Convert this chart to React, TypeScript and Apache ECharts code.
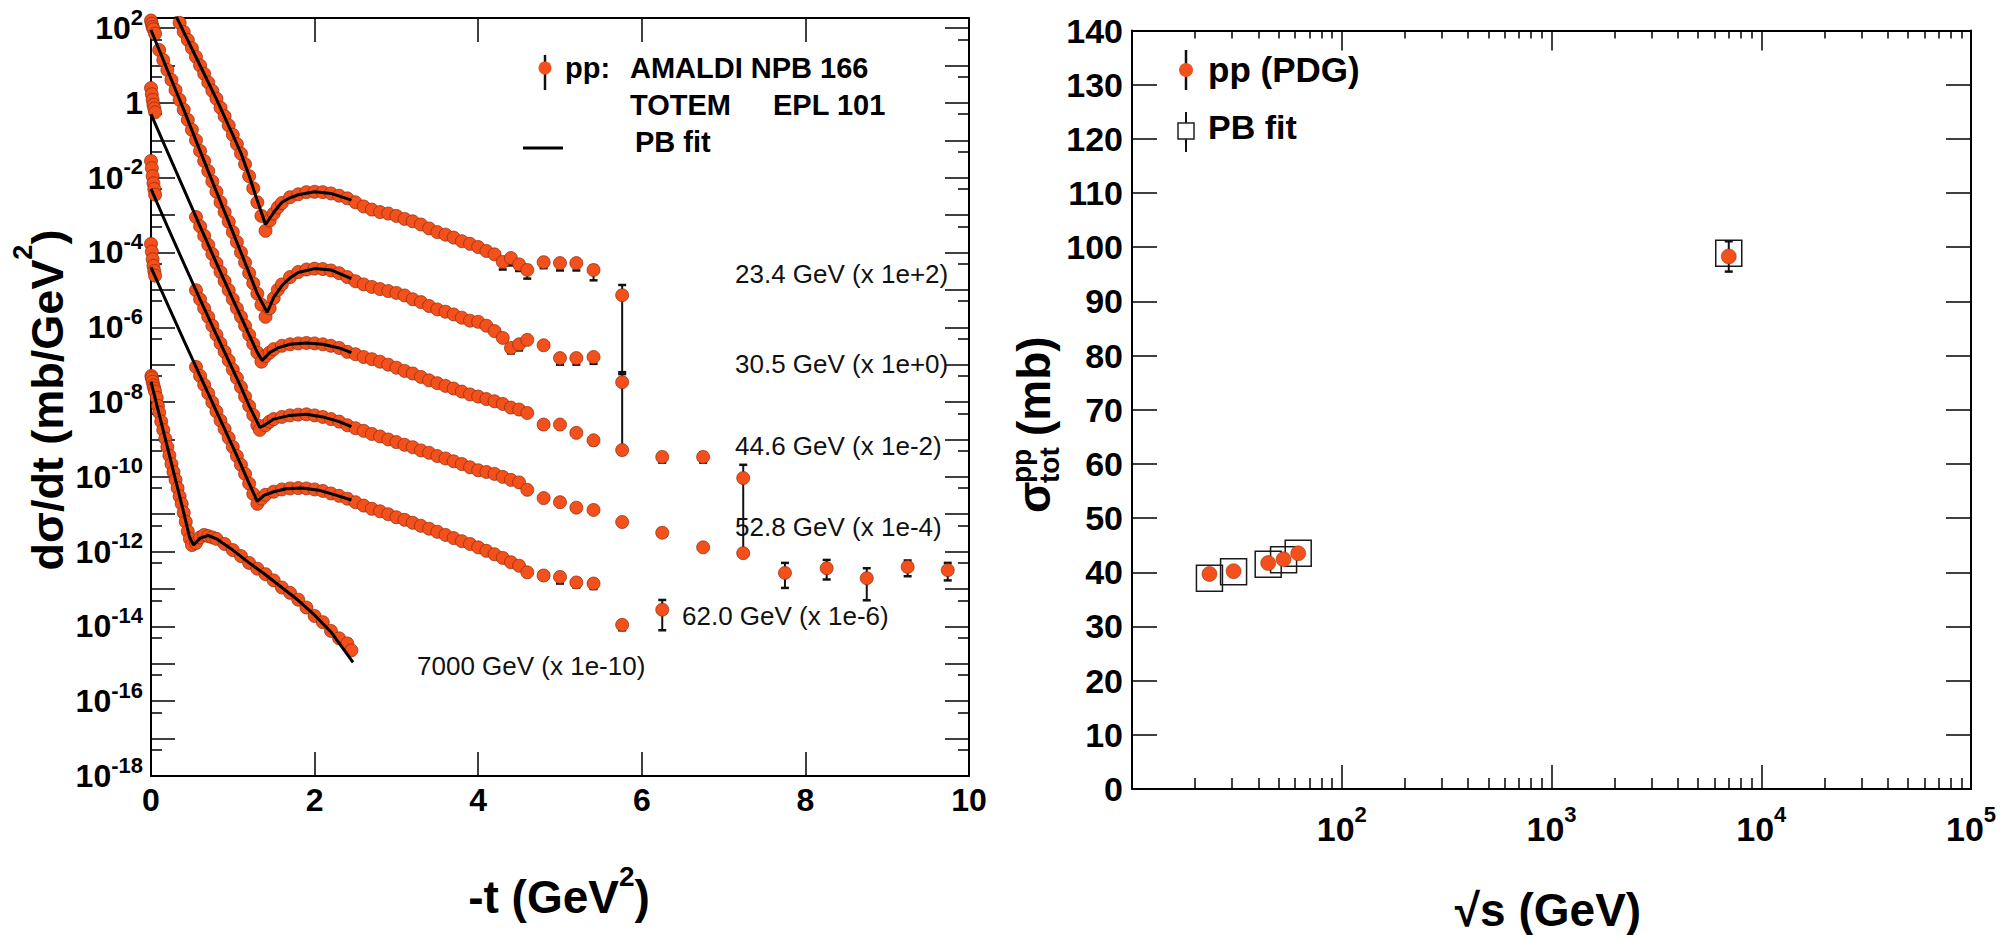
import React, { useEffect, useRef } from 'react';
import * as echarts from 'echarts';

const FONT = "'Liberation Sans', Arial, Helvetica, sans-serif";
const ORANGE = '#f4501c';

// ---------- Left panel: scaled dσ/dt (mb/GeV^2) vs -t (GeV^2) ----------
// points: [t, value] or [t, value, errLow, errHigh]
const data23_4: number[][] = [
  [0.35, 138], [0.40, 79], [0.45, 48], [0.50, 29], [0.55, 17], [0.60, 10], [0.65, 6.0], [0.70, 3.5], [0.75, 2.1], [0.80, 1.3],
  [0.85, 0.74], [0.90, 0.44], [0.95, 0.25], [1.00, 0.14], [1.05, 0.079], [1.10, 0.044], [1.15, 0.023], [1.20, 0.011], [1.25, 5.2e-3], [1.30, 2.2e-3],
  [1.35, 9.5e-4], [1.40, 3.8e-4], [1.45, 7.1e-4], [1.50, 1.1e-3], [1.55, 1.6e-3], [1.60, 2.1e-3], [1.70, 3.0e-3], [1.80, 3.6e-3], [1.90, 4.1e-3], [2.00, 4.2e-3],
  [2.10, 4.1e-3], [2.20, 3.8e-3], [2.30, 3.3e-3], [2.40, 2.8e-3], [2.50, 2.2e-3], [2.60, 1.7e-3], [2.70, 1.4e-3], [2.80, 1.2e-3], [2.90, 1.1e-3], [3.00, 9.5e-4],
  [3.10, 7.9e-4], [3.20, 6.8e-4], [3.30, 5.6e-4], [3.40, 4.4e-4], [3.50, 3.5e-4], [3.60, 3.0e-4], [3.70, 2.5e-4], [3.80, 2.0e-4], [3.90, 1.7e-4], [4.00, 1.4e-4],
  [4.10, 1.1e-4], [4.20, 8.9e-5], [4.30, 5.6e-5, 3.5e-5, 7.1e-5], [4.40, 7.1e-5, 4.5e-5, 8.9e-5], [4.50, 4.8e-5, 3.2e-5, 6.0e-5], [4.60, 3.4e-5, 2.0e-5, 4.4e-5],
  [4.80, 5.5e-5, 3.8e-5, 6.9e-5], [5.00, 5.2e-5, 3.3e-5, 6.6e-5], [5.20, 5.2e-5, 3.3e-5, 6.6e-5], [5.41, 3.4e-5, 1.8e-5, 4.4e-5], [5.76, 7.2e-6, 6.3e-8, 1.35e-5],
];
const fit23_4: number[][] = [
  [0, 5.0e3], [0.2, 6.3e2], [0.4, 79], [0.6, 10], [0.8, 1.26], [1.0, 0.14], [1.1, 0.045], [1.2, 0.0112], [1.3, 2.4e-3], [1.4, 5.6e-4],
  [1.5, 1.17e-3], [1.6, 2.2e-3], [1.7, 2.9e-3], [1.8, 3.5e-3], [2.0, 4.2e-3], [2.2, 3.8e-3], [2.45, 2.5e-3],
];

const data30_5: number[][] = [
  [0.00, 160], [0.01, 130], [0.02, 107], [0.03, 93], [0.05, 71], [0.10, 26], [0.15, 14], [0.20, 7.6], [0.25, 4.1], [0.30, 2.2],
  [0.35, 1.2], [0.40, 0.66], [0.45, 0.35], [0.50, 0.19], [0.55, 0.10], [0.60, 0.052], [0.65, 0.028], [0.70, 0.015], [0.75, 7.9e-3], [0.80, 4.2e-3],
  [0.85, 2.2e-3], [0.90, 1.2e-3], [0.95, 6.6e-4], [1.00, 3.5e-4], [1.05, 1.9e-4], [1.10, 1.0e-4], [1.15, 5.4e-5], [1.20, 2.8e-5], [1.25, 1.5e-5], [1.30, 7.9e-6],
  [1.35, 4.0e-6], [1.40, 1.9e-6], [1.45, 3.2e-6], [1.50, 6.0e-6], [1.55, 1.0e-5], [1.60, 1.4e-5], [1.70, 2.2e-5], [1.80, 3.0e-5], [1.90, 3.5e-5], [2.00, 3.7e-5],
  [2.10, 3.6e-5], [2.20, 3.3e-5], [2.30, 2.8e-5], [2.40, 2.2e-5], [2.50, 1.7e-5], [2.60, 1.4e-5], [2.70, 1.2e-5], [2.80, 1.05e-5], [2.90, 9.3e-6], [3.00, 8.3e-6],
  [3.10, 7.1e-6], [3.20, 5.6e-6], [3.30, 4.7e-6], [3.40, 3.7e-6], [3.50, 3.0e-6], [3.60, 2.6e-6], [3.70, 2.2e-6], [3.80, 1.8e-6], [3.90, 1.5e-6], [4.00, 1.4e-6],
  [4.10, 1.1e-6], [4.20, 7.9e-7], [4.30, 5.2e-7], [4.40, 2.8e-7, 2.0e-7, 3.5e-7], [4.50, 3.5e-7, 2.4e-7, 4.4e-7], [4.60, 4.6e-7], [4.80, 3.3e-7],
  [5.00, 1.5e-7, 1.0e-7, 1.9e-7], [5.20, 1.5e-7, 1.0e-7, 1.9e-7], [5.41, 1.6e-7, 1.05e-7, 2.0e-7], [5.76, 3.4e-8, 6.3e-10, 5.6e-8],
];
const fit30_5: number[][] = [
  [0, 89], [0.2, 7.6], [0.4, 0.66], [0.6, 0.052], [0.8, 4.2e-3], [1.0, 3.5e-4], [1.1, 1.0e-4], [1.2, 2.8e-5], [1.3, 7.9e-6], [1.42, 2.5e-6],
  [1.5, 6.3e-6], [1.6, 1.3e-5], [1.7, 2.1e-5], [1.8, 2.9e-5], [2.0, 3.7e-5], [2.2, 3.4e-5], [2.45, 2.0e-5],
];

const data44_6: number[][] = [
  [0.00, 2.5], [0.01, 1.7], [0.02, 1.2], [0.03, 0.89], [0.04, 0.71], [0.05, 0.56],
  [0.55, 8.9e-4], [0.60, 5.0e-4], [0.65, 2.8e-4], [0.70, 1.6e-4], [0.75, 9.1e-5], [0.80, 5.2e-5], [0.85, 3.0e-5], [0.90, 1.7e-5], [0.95, 9.8e-6], [1.00, 5.6e-6],
  [1.05, 3.2e-6], [1.10, 1.9e-6], [1.15, 1.1e-6], [1.20, 6.3e-7], [1.25, 3.6e-7], [1.30, 2.1e-7], [1.35, 1.2e-7], [1.40, 1.7e-7], [1.45, 2.1e-7], [1.50, 2.6e-7],
  [1.60, 3.2e-7], [1.70, 3.5e-7], [1.80, 3.7e-7], [1.90, 3.8e-7], [2.00, 3.7e-7], [2.10, 3.5e-7], [2.20, 3.2e-7], [2.30, 2.8e-7], [2.40, 2.2e-7], [2.50, 1.9e-7],
  [2.60, 1.6e-7], [2.70, 1.4e-7], [2.80, 1.2e-7], [2.90, 1.0e-7], [3.00, 8.3e-8], [3.10, 6.8e-8], [3.20, 5.8e-8], [3.30, 4.7e-8], [3.40, 3.8e-8], [3.50, 3.2e-8],
  [3.60, 2.7e-8], [3.70, 2.3e-8], [3.80, 1.9e-8], [3.90, 1.6e-8], [4.00, 1.4e-8], [4.10, 1.2e-8], [4.20, 1.05e-8], [4.30, 8.9e-9], [4.40, 7.1e-9], [4.50, 6.3e-9],
  [4.60, 5.1e-9], [4.80, 2.5e-9], [5.00, 2.5e-9], [5.20, 1.5e-9], [5.41, 9.5e-10, 7.1e-10, 1.1e-9], [5.76, 5.2e-10, 4.0e-10, 6.3e-10],
  [6.25, 3.4e-10, 2.4e-10, 4.2e-10], [6.75, 3.4e-10, 2.4e-10, 4.4e-10], [7.24, 9.3e-11, 1.0e-12, 2.1e-10],
];
const fit44_6: number[][] = [
  [0, 0.5], [0.2, 0.05], [0.4, 5.0e-3], [0.6, 5.0e-4], [0.8, 5.2e-5], [1.0, 5.6e-6], [1.1, 1.9e-6], [1.2, 6.3e-7], [1.3, 2.1e-7], [1.36, 1.3e-7],
  [1.45, 2.1e-7], [1.55, 2.8e-7], [1.7, 3.5e-7], [1.9, 3.8e-7], [2.1, 3.5e-7], [2.3, 2.8e-7], [2.45, 2.1e-7],
];

const data52_8: number[][] = [
  [0.00, 0.028], [0.01, 0.018], [0.02, 0.011], [0.03, 7.1e-3], [0.04, 5.0e-3], [0.05, 3.5e-3],
  [0.55, 9.8e-6], [0.60, 5.6e-6], [0.65, 3.2e-6], [0.70, 1.9e-6], [0.75, 1.1e-6], [0.80, 6.3e-7], [0.85, 3.7e-7], [0.90, 2.2e-7], [0.95, 1.3e-7], [1.00, 7.4e-8],
  [1.05, 4.4e-8], [1.10, 2.5e-8], [1.15, 1.4e-8], [1.20, 7.9e-9], [1.25, 4.5e-9], [1.30, 2.4e-9], [1.33, 1.8e-9], [1.40, 2.4e-9], [1.45, 3.0e-9], [1.50, 3.5e-9],
  [1.60, 4.0e-9], [1.70, 4.4e-9], [1.80, 4.6e-9], [1.90, 4.7e-9], [2.00, 4.4e-9], [2.10, 4.0e-9], [2.20, 3.5e-9], [2.30, 3.0e-9], [2.40, 2.4e-9], [2.50, 2.0e-9],
  [2.60, 1.7e-9], [2.70, 1.4e-9], [2.80, 1.2e-9], [2.90, 1.0e-9], [3.00, 8.5e-10], [3.10, 7.2e-10], [3.20, 6.2e-10], [3.30, 5.1e-10], [3.40, 4.4e-10], [3.50, 3.6e-10],
  [3.60, 3.1e-10], [3.70, 2.6e-10], [3.80, 2.2e-10], [3.90, 1.8e-10], [4.00, 1.5e-10], [4.10, 1.35e-10], [4.20, 1.2e-10], [4.30, 1.0e-10], [4.40, 8.3e-11], [4.50, 7.1e-11],
  [4.60, 4.5e-11], [4.80, 2.7e-11], [5.00, 2.1e-11], [5.20, 1.5e-11], [5.41, 1.3e-11], [5.76, 6.2e-12], [6.25, 3.2e-12], [6.75, 1.3e-12], [7.24, 9.1e-13],
  [7.75, 2.7e-13, 1.07e-13, 5.0e-13], [8.26, 3.6e-13, 1.8e-13, 6.0e-13], [8.75, 1.95e-13, 5.0e-14, 3.6e-13], [9.25, 3.9e-13, 2.2e-13, 5.8e-13], [9.74, 3.2e-13, 1.7e-13, 5.0e-13],
];
const fit52_8: number[][] = [
  [0, 5.0e-3], [0.2, 5.0e-4], [0.4, 5.2e-5], [0.6, 5.6e-6], [0.8, 6.3e-7], [1.0, 7.4e-8], [1.1, 2.5e-8], [1.2, 7.9e-9], [1.33, 2.1e-9], [1.4, 2.5e-9],
  [1.5, 3.5e-9], [1.7, 4.4e-9], [1.9, 4.7e-9], [2.1, 4.0e-9], [2.3, 3.0e-9], [2.45, 2.2e-9],
];

const data62_0: number[][] = [
  [0.00, 1.7e-4], [0.01, 1.05e-4], [0.02, 6.6e-5], [0.03, 4.4e-5], [0.04, 3.2e-5], [0.05, 2.4e-5],
  [0.55, 8.7e-8], [0.60, 5.0e-8], [0.65, 2.9e-8], [0.70, 1.7e-8], [0.75, 9.8e-9], [0.80, 5.6e-9], [0.85, 3.2e-9], [0.90, 1.9e-9], [0.95, 1.1e-9], [1.00, 6.3e-10],
  [1.05, 3.6e-10], [1.10, 2.1e-10], [1.15, 1.2e-10], [1.20, 6.6e-11], [1.25, 3.5e-11], [1.30, 1.9e-11], [1.35, 2.6e-11], [1.40, 3.3e-11], [1.50, 4.0e-11], [1.60, 4.6e-11],
  [1.70, 4.9e-11], [1.80, 5.0e-11], [1.90, 4.9e-11], [2.00, 4.6e-11], [2.10, 4.2e-11], [2.20, 3.6e-11], [2.30, 3.1e-11], [2.40, 2.6e-11], [2.50, 2.1e-11], [2.60, 1.7e-11],
  [2.70, 1.4e-11], [2.80, 1.2e-11], [2.90, 1.0e-11], [3.00, 8.3e-12], [3.10, 7.1e-12], [3.20, 5.9e-12], [3.30, 4.9e-12], [3.40, 4.1e-12], [3.50, 3.4e-12], [3.60, 2.8e-12],
  [3.70, 2.3e-12], [3.80, 1.9e-12], [3.90, 1.6e-12], [4.00, 1.3e-12], [4.10, 1.05e-12], [4.20, 8.5e-13], [4.30, 6.8e-13], [4.40, 5.2e-13], [4.50, 4.2e-13], [4.60, 2.8e-13],
  [4.80, 2.3e-13, 1.8e-13, 2.7e-13], [5.00, 2.1e-13, 1.4e-13, 2.5e-13], [5.20, 1.5e-13, 1.1e-13, 1.8e-13], [5.41, 1.4e-13, 1.0e-13, 1.8e-13],
  [5.76, 1.1e-14, 7.9e-15, 1.4e-14], [6.25, 2.8e-14, 7.9e-15, 5.1e-14],
];
const fit62_0: number[][] = [
  [0, 4.0e-5], [0.2, 4.2e-6], [0.4, 4.5e-7], [0.6, 5.0e-8], [0.8, 5.6e-9], [1.0, 6.3e-10], [1.1, 2.1e-10], [1.2, 6.6e-11], [1.3, 2.2e-11], [1.38, 3.2e-11],
  [1.5, 4.0e-11], [1.65, 4.8e-11], [1.85, 5.0e-11], [2.05, 4.4e-11], [2.25, 3.3e-11], [2.45, 2.4e-11],
];

const data7000: number[][] = [
  [0.005, 5.0e-8], [0.01, 4.4e-8], [0.02, 3.5e-8], [0.03, 2.8e-8], [0.04, 2.3e-8], [0.05, 1.9e-8], [0.07, 1.3e-8], [0.085, 7.9e-9], [0.10, 5.2e-9], [0.125, 3.0e-9],
  [0.15, 1.8e-9], [0.175, 1.05e-9], [0.20, 6.3e-10], [0.225, 3.7e-10], [0.25, 2.2e-10], [0.275, 1.35e-10], [0.30, 8.3e-11], [0.325, 5.0e-11], [0.35, 3.0e-11], [0.375, 1.9e-11],
  [0.40, 1.1e-11], [0.425, 6.3e-12], [0.45, 3.5e-12], [0.475, 2.2e-12], [0.50, 1.5e-12], [0.55, 1.7e-12], [0.60, 2.4e-12], [0.65, 2.8e-12], [0.70, 2.6e-12], [0.75, 2.4e-12],
  [0.80, 2.2e-12], [0.90, 1.6e-12], [1.00, 1.1e-12], [1.10, 7.6e-13], [1.20, 5.0e-13], [1.30, 3.5e-13], [1.40, 2.5e-13], [1.50, 1.7e-13], [1.60, 1.1e-13], [1.70, 7.9e-14],
  [1.80, 5.2e-14], [1.90, 3.2e-14], [2.00, 1.9e-14], [2.10, 1.3e-14], [2.20, 7.6e-15], [2.30, 4.8e-15], [2.40, 3.5e-15], [2.45, 2.3e-15],
];
const fit7000: number[][] = [
  [0, 3.5e-8], [0.1, 4.7e-9], [0.2, 6.3e-10], [0.3, 8.3e-11], [0.4, 1.1e-11], [0.47, 2.5e-12], [0.52, 1.5e-12], [0.6, 2.3e-12], [0.7, 2.7e-12], [0.8, 2.2e-12],
  [1.0, 1.1e-12], [1.2, 5.0e-13], [1.4, 2.4e-13], [1.6, 1.1e-13], [1.8, 5.0e-14], [2.0, 2.0e-14], [2.2, 7.1e-15], [2.47, 1.1e-15],
];

const energyLabels = [
  '23.4 GeV (x 1e+2)', '30.5 GeV (x 1e+0)', '44.6 GeV (x 1e-2)',
  '52.8 GeV (x 1e-4)', '62.0 GeV (x 1e-6)', '7000 GeV (x 1e-10)',
];
const leftXTickLabels = [0, 2, 4, 6, 8, 10];
const leftYLabelExponents = [-18, -16, -14, -12, -10, -8, -6, -4, -2, 0, 2];

// ---------- Right panel: sigma_tot (mb) vs sqrt(s) (GeV) ----------
const sqrtS = [23.4, 30.5, 44.6, 52.8, 62.0, 7000];
const sigmaPDG = [39.7, 40.2, 41.7, 42.4, 43.5, 98.3];
const sigmaPDGErr = [0.3, 0.3, 0.3, 0.3, 0.3, 2.8];
const sigmaPB = [38.9, 40.1, 41.5, 42.3, 43.5, 98.9];
const rightXLabelExponents = [2, 3, 4, 5];

function buildOption() {
  const lg = (v: number) => Math.log10(v);
  const datasets = [data23_4, data30_5, data44_6, data52_8, data62_0, data7000];
  const fits = [fit23_4, fit30_5, fit44_6, fit52_8, fit62_0, fit7000];

  const errorBar = (params: any, api: any) => {
    const x = api.value(0);
    const lo = api.coord([x, api.value(2)]);
    const hi = api.coord([x, api.value(3)]);
    const cw = 4;
    const st = { stroke: '#111', lineWidth: 2 };
    return {
      type: 'group',
      children: [
        { type: 'line', shape: { x1: lo[0], y1: lo[1], x2: hi[0], y2: hi[1] }, style: st },
        { type: 'line', shape: { x1: lo[0] - cw, y1: lo[1], x2: lo[0] + cw, y2: lo[1] }, style: { stroke: '#111', lineWidth: 2.5 } },
        { type: 'line', shape: { x1: hi[0] - cw, y1: hi[1], x2: hi[0] + cw, y2: hi[1] }, style: { stroke: '#111', lineWidth: 2.5 } },
      ],
    };
  };

  const dotStyle = { color: ORANGE, opacity: 1, borderColor: '#8a2a0a', borderWidth: 0.7 };

  const series: any[] = [];
  datasets.forEach((d, i) => {
    series.push({
      type: 'custom', xAxisIndex: 0, yAxisIndex: 0, renderItem: errorBar, silent: true, z: 2,
      encode: { x: 0, y: [1, 2, 3] },
      data: d.filter((p) => p.length === 4).map((p) => [p[0], lg(p[1]), lg(p[2]), lg(p[3])]),
    });
    series.push({
      type: 'scatter', xAxisIndex: 0, yAxisIndex: 0, silent: true, z: 3,
      symbol: 'circle', symbolSize: 13,
      itemStyle: dotStyle,
      data: d.map((p) => [p[0], lg(p[1])]),
    });
    series.push({
      type: 'line', xAxisIndex: 0, yAxisIndex: 0, silent: true, z: 4,
      showSymbol: false, symbol: 'none',
      lineStyle: { color: '#000', width: 3, opacity: 1 },
      data: fits[i].map((p) => [p[0], lg(p[1])]),
    });
  });

  series.push({
    type: 'scatter', xAxisIndex: 2, yAxisIndex: 4, silent: true, z: 2,
    symbol: 'rect', symbolSize: 26,
    itemStyle: { color: 'rgba(255,255,255,0)', opacity: 1, borderColor: '#1a1a1a', borderWidth: 1.5 },
    data: sqrtS.map((s, i) => [s, sigmaPB[i]]),
  });
  series.push({
    type: 'custom', xAxisIndex: 2, yAxisIndex: 4, renderItem: errorBar, silent: true, z: 3,
    encode: { x: 0, y: [1, 2, 3] },
    data: sqrtS.map((s, i) => [s, sigmaPDG[i], sigmaPDG[i] - sigmaPDGErr[i], sigmaPDG[i] + sigmaPDGErr[i]]),
  });
  series.push({
    type: 'scatter', xAxisIndex: 2, yAxisIndex: 4, silent: true, z: 4,
    symbol: 'circle', symbolSize: 15,
    itemStyle: { color: ORANGE, opacity: 1, borderColor: '#8a2a0a', borderWidth: 0.5 },
    data: sqrtS.map((s, i) => [s, sigmaPDG[i]]),
  });

  const axisLine = { show: true, onZero: false, lineStyle: { color: '#000', width: 2 } };
  const tickLine = { color: '#000', width: 1.5 };
  const noSplit = { show: false };

  const leftYRich = {
    b: { fontSize: 32, fontWeight: 'bold', fontFamily: FONT, color: '#000', lineHeight: 44 },
    s: { fontSize: 22, fontWeight: 'bold', fontFamily: FONT, color: '#000', lineHeight: 22, verticalAlign: 'top' },
  };
  const rightXRich = {
    b: { fontSize: 34, fontWeight: 'bold', fontFamily: FONT, color: '#000', lineHeight: 52 },
    s: { fontSize: 22, fontWeight: 'bold', fontFamily: FONT, color: '#000', lineHeight: 22, verticalAlign: 'top' },
  };

  const txt = (text: string, x: number, y: number, font: string, extra: any = {}) => ({
    type: 'text', x, y, z: 10,
    style: { text, font, fill: '#000', align: 'left', verticalAlign: 'middle', ...extra },
  });
  const boldF = (s: number) => `bold ${s}px ${FONT}`;
  const annPos = [[735, 274], [735, 364], [735, 446], [735, 527], [682, 616], [417, 666]];

  const graphicEls: any[] = [
    // left legend
    { type: 'line', z: 10, shape: { x1: 545, y1: 55, x2: 545, y2: 90 }, style: { stroke: '#111', lineWidth: 2.5 } },
    { type: 'circle', z: 11, shape: { cx: 545, cy: 68, r: 6.5 }, style: { fill: ORANGE } },
    txt('pp:', 565, 67.5, boldF(29)),
    txt('AMALDI NPB 166', 630, 67.5, boldF(29)),
    txt('TOTEM', 630, 105, boldF(29)),
    txt('EPL 101', 773, 105, boldF(29)),
    { type: 'line', z: 10, shape: { x1: 523, y1: 148, x2: 563, y2: 148 }, style: { stroke: '#000', lineWidth: 3 } },
    txt('PB fit', 635, 142, boldF(29)),
    // right legend
    { type: 'line', z: 10, shape: { x1: 1186, y1: 50, x2: 1186, y2: 90 }, style: { stroke: '#111', lineWidth: 2.5 } },
    { type: 'circle', z: 11, shape: { cx: 1186, cy: 70, r: 7 }, style: { fill: ORANGE } },
    txt('pp (PDG)', 1208, 69, boldF(35)),
    { type: 'line', z: 10, shape: { x1: 1186, y1: 112, x2: 1186, y2: 152 }, style: { stroke: '#111', lineWidth: 2 } },
    { type: 'rect', z: 11, shape: { x: 1178, y: 123, width: 16, height: 16 }, style: { fill: '#fff', stroke: '#222', lineWidth: 1.5 } },
    txt('PB fit', 1208, 127, boldF(34)),
    // axis titles
    {
      type: 'text', x: 47, y: 400, rotation: Math.PI / 2, z: 10,
      style: {
        text: '{a|dσ/dt (mb/GeV}{s|2}{a|)}', align: 'center', verticalAlign: 'middle',
        rich: {
          a: { fontSize: 45, fontWeight: 'bold', fontFamily: FONT, fill: '#000', lineHeight: 75 },
          s: { fontSize: 27, fontWeight: 'bold', fontFamily: FONT, fill: '#000', lineHeight: 28, verticalAlign: 'top' },
        },
      },
    },
    {
      type: 'text', x: 559, y: 897, z: 10,
      style: {
        text: '{a|-t (GeV}{s|2}{a|)}', align: 'center', verticalAlign: 'middle',
        rich: {
          a: { fontSize: 46, fontWeight: 'bold', fontFamily: FONT, fill: '#000', lineHeight: 70 },
          s: { fontSize: 28, fontWeight: 'bold', fontFamily: FONT, fill: '#000', lineHeight: 30, verticalAlign: 'top' },
        },
      },
    },
    txt('√s (GeV)', 1548, 910, boldF(46), { align: 'center' }),
    {
      type: 'group', x: 1050, y: 513, rotation: Math.PI / 2, z: 10,
      children: [
        txt('σ', 0, -16, boldF(46)),
        txt('pp', 30, -29, boldF(28)),
        txt('tot', 30, -1, boldF(28)),
        txt('(mb)', 77, -16, boldF(46)),
      ],
    },
  ];
  energyLabels.forEach((l, i) => {
    graphicEls.push(txt(l, annPos[i][0], annPos[i][1], `normal 26px ${FONT}`, { fill: '#111' }));
  });

  return {
    animation: false,
    backgroundColor: '#ffffff',
    textStyle: { fontFamily: FONT },
    grid: [
      { left: 151, top: 18, width: 818, height: 758, outerBoundsMode: 'none' },
      { left: 1132, top: 30.5, width: 839, height: 758.5, outerBoundsMode: 'none' },
    ],
    xAxis: [
      {
        gridIndex: 0, type: 'value', min: 0, max: 10, interval: 2, position: 'bottom',
        axisLine, splitLine: noSplit,
        axisTick: { show: true, inside: true, length: 24, lineStyle: tickLine },
        axisLabel: {
          margin: 8, color: '#000', fontSize: 32, fontWeight: 'bold', fontFamily: FONT,
          formatter: (v: number) => (leftXTickLabels.includes(v) ? String(v) : ''),
        },
      },
      {
        gridIndex: 0, type: 'value', min: 0, max: 10, interval: 2, position: 'top',
        axisLine, splitLine: noSplit,
        axisTick: { show: true, inside: true, length: 24, lineStyle: tickLine },
        axisLabel: { show: false },
      },
      {
        gridIndex: 1, type: 'log', logBase: 10, min: 10, max: 100000, splitNumber: 4, position: 'bottom',
        axisLine, splitLine: noSplit, minorSplitLine: { show: false },
        axisTick: { show: true, inside: true, length: 24, lineStyle: tickLine },
        minorTick: { show: true, splitNumber: 9, length: 11, lineStyle: tickLine },
        axisLabel: {
          margin: 14, rich: rightXRich,
          formatter: (v: number) => {
            const e = Math.round(Math.log10(v));
            return rightXLabelExponents.includes(e) ? `{b|10}{s|${e}}` : '';
          },
        },
      },
      {
        gridIndex: 1, type: 'log', logBase: 10, min: 10, max: 100000, splitNumber: 4, position: 'top',
        axisLine, splitLine: noSplit, minorSplitLine: { show: false },
        axisTick: { show: true, inside: true, length: 20, lineStyle: tickLine },
        minorTick: { show: true, splitNumber: 9, length: 8, lineStyle: tickLine },
        axisLabel: { show: false },
      },
    ],
    yAxis: [
      {
        gridIndex: 0, type: 'value', min: -18, max: 2.27, interval: 1, position: 'left',
        axisLine, splitLine: noSplit,
        axisTick: { show: true, inside: true, length: 24, lineStyle: tickLine },
        axisLabel: {
          margin: 8, rich: leftYRich,
          formatter: (v: number) => {
            const r = Math.round(v);
            if (Math.abs(v - r) > 1e-6 || !leftYLabelExponents.includes(r)) return '';
            return r === 0 ? '{b|1}' : `{b|10}{s|${r}}`;
          },
        },
      },
      {
        gridIndex: 0, type: 'value', min: -18, max: 2.27, interval: 1, position: 'right',
        axisLine, splitLine: noSplit,
        axisTick: { show: true, inside: true, length: 24, lineStyle: tickLine },
        axisLabel: { show: false },
      },
      {
        // short ticks at 5 x 10^n (same scale, shifted by log10(2))
        gridIndex: 0, type: 'value', min: -17.699, max: 2.571, splitNumber: 20, minInterval: 1, maxInterval: 1, position: 'left',
        axisLine: { show: false, onZero: false }, splitLine: noSplit,
        axisTick: { show: true, inside: true, length: 11, lineStyle: tickLine },
        axisLabel: { show: false },
      },
      {
        gridIndex: 0, type: 'value', min: -17.699, max: 2.571, splitNumber: 20, minInterval: 1, maxInterval: 1, position: 'right',
        axisLine: { show: false, onZero: false }, splitLine: noSplit,
        axisTick: { show: true, inside: true, length: 11, lineStyle: tickLine },
        axisLabel: { show: false },
      },
      {
        gridIndex: 1, type: 'value', min: 0, max: 140, interval: 10, position: 'left',
        axisLine, splitLine: noSplit,
        axisTick: { show: true, inside: true, length: 25, lineStyle: tickLine },
        axisLabel: { margin: 9, color: '#000', fontSize: 34, fontWeight: 'bold', fontFamily: FONT },
      },
      {
        gridIndex: 1, type: 'value', min: 0, max: 140, interval: 10, position: 'right',
        axisLine, splitLine: noSplit,
        axisTick: { show: true, inside: true, length: 25, lineStyle: tickLine },
        axisLabel: { show: false },
      },
    ],
    graphic: { elements: graphicEls },
    series,
  };
}

export default function App() {
  const ref = useRef<HTMLDivElement>(null);
  useEffect(() => {
    if (!ref.current) return;
    const chart = echarts.init(ref.current, undefined, { renderer: 'svg' });
    chart.setOption(buildOption() as any);
    return () => chart.dispose();
  }, []);
  return (
    <div
      ref={ref}
      style={{ position: 'absolute', left: 0, top: 0, width: 2010, height: 935, background: '#fff' }}
    />
  );
}
